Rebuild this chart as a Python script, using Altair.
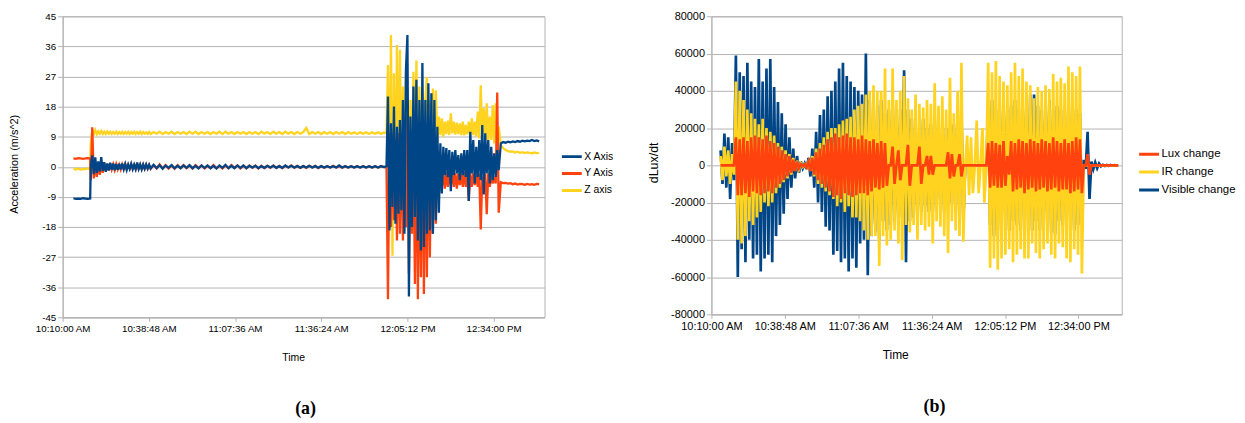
import altair as alt
import pandas as pd

# ---------------- Panel (a): accelerometer ----------------
# time in minutes after 10:10:00 AM; (start, step) of each sampled stretch
A_T_PRE = (3.6, 0.8)
A_T_CALM1 = (9.4, 0.5)
A_T_CALM2 = (29.4, 1.0)
A_T_BURST = (108.2, 0.5)
A_T_POST = (146.4, 0.8)

X_PRE = [-9.4, -9.6, -9.5, -9.6, -9.4, -9.5, -9.6, -9.5]
Y_PRE = [2.5, 2.4, 2.6, 2.5, 2.4, 2.5, 2.6, 2.5]
Z_PRE = [-0.6, -0.8, -0.5, -0.9, -0.6, -0.7, -0.5, -0.8]

X_CALM1 = [
    0.5, 3.4, -2.2, 2.8, -1.8, 1.6, -1.4, 2.9, -1.2, 1.4,
    -1.5, 1.0, -1.1, 1.2, -0.9, 1.0, -1.0, 0.8, -0.9, 0.9,
    -0.8, 1.0, -0.7, 0.8, -0.9, 0.7, -0.6, 0.9, -0.7, 0.6,
    -0.7, 1.3, -0.6, 0.7, -0.8, 0.6, -0.6, 0.7, -0.5, 0.6,
]
Y_CALM1 = [
    -4.0, 11.8, -3.5, 1.2, -3.0, 1.4, -2.4, 0.9, -1.8, 1.1,
    -1.2, 0.8, -1.0, 0.9, -0.8, 0.7, -0.9, 0.8, -0.7, 0.6,
    -0.8, 0.7, -0.6, 0.8, -0.7, 0.5, -0.6, 0.7, -0.5, 0.6,
    -0.7, 0.5, -0.6, 0.6, -0.5, 0.7, -0.6, 0.5, -0.6, 0.5,
]
Z_CALM1 = [
    7.0, 10.9, 9.8, 11.0, 9.7, 10.6, 9.9, 10.7, 9.8, 10.5,
    9.8, 10.6, 9.9, 10.5, 9.8, 10.4, 9.9, 10.5, 9.8, 10.4,
    9.9, 10.5, 9.8, 10.4, 9.9, 10.5, 9.8, 10.4, 9.9, 10.5,
    9.8, 10.4, 9.9, 10.5, 9.8, 10.4, 9.9, 10.3, 9.8, 10.4,
]
X_CALM2 = [
    -0.5, 0.6, -0.4, 0.5, -0.6, 0.4, -0.3, 0.5, -0.4, 0.3,
    -0.4, 0.4, -0.3, 0.5, -0.4, 0.3, -0.5, 0.4, -0.3, 0.4,
    -0.4, 0.3, -0.5, 0.4, -0.3, 0.6, -0.4, 0.3, -0.4, 0.4,
    -0.3, 0.4, -0.4, 0.3, -0.2, 0.3, -0.4, 0.2, -0.3, 0.3,
    -0.2, 0.3, -0.3, 0.2, -0.3, 0.4, -0.2, 0.3, -0.2, 0.2,
    -0.3, 0.2, -0.2, 0.3, -0.2, 0.2, -0.3, 0.2, -0.2, 0.2,
    -0.2, 0.2, -0.2, 0.4, -0.2, 0.2, -0.2, 0.2, -0.2, 0.2,
    -0.2, 0.2, -0.2, 0.2, -0.2, 0.2, -0.2, 0.2, -0.1,
]
Y_CALM2 = [
    -0.6, 0.5, -0.5, 0.7, -0.4, 0.5, -0.5, 0.4, -0.6, 0.5,
    -0.4, 0.5, -0.4, 0.4, -0.5, 0.5, -0.3, 0.4, -0.5, 0.3,
    -0.4, 0.5, -0.4, 0.3, -0.5, 0.4, -0.4, 0.5, -0.3, 0.4,
    -0.5, 0.3, -0.4, 0.4, -0.3, 0.4, -0.5, 0.3, -0.4, 0.3,
    -0.3, 0.4, -0.3, 0.3, -0.4, 0.3, -0.2, 0.4, -0.3, 0.3,
    -0.3, 0.2, -0.3, 0.3, -0.2, 0.3, -0.4, 0.2, -0.3, 0.2,
    -0.2, 0.3, -0.2, 0.2, -0.3, 0.2, -0.2, 0.2, -0.2, 0.2,
    -0.2, 0.2, -0.2, 0.2, -0.2, 0.2, -0.2, 0.2, -0.1,
]
Z_CALM2 = [
    9.8, 10.4, 9.9, 10.5, 9.8, 10.4, 9.9, 10.5, 9.8, 10.4,
    9.9, 10.4, 9.8, 10.5, 9.9, 10.5, 9.8, 10.4, 9.9, 10.4,
    9.8, 10.4, 9.9, 10.5, 9.8, 10.5, 9.9, 10.4, 9.8, 10.4,
    9.9, 10.4, 9.8, 10.4, 9.9, 10.4, 9.8, 10.5, 9.9, 10.4,
    9.8, 10.5, 9.9, 10.4, 9.8, 10.5, 9.9, 10.4, 9.8, 10.4,
    9.9, 10.4, 11.6, 9.8, 10.4, 9.9, 10.4, 9.8, 10.4, 9.9,
    10.4, 9.8, 10.4, 9.9, 10.4, 9.8, 10.4, 9.9, 10.3, 9.8,
    10.3, 9.9, 10.3, 9.8, 10.3, 9.9, 10.3, 9.9, 10.2,
]
X_BURST = [
    0.2, 21, -19, 13, -12, 18, -17, 12, -14, 14,
    -13, 20, -20, 29, 39.4, -38.8, 15, -18, 24, -15,
    26, -22, 20, -25, 31, -24, 20, -20, 25, -19,
    22, -20, 20, -16, 12, -13.7, 7, -8, 6, -2.5,
    5.6, -3, 5, -7.3, 4.5, -2.5, 5, -2, 3.5, -4,
    4, -2.5, 5, -3, 5, -10.2, 10.5, -2, 8, -5,
    6, -3, 8, -4, 12.5, -8.3, 10, -2, 8, -5,
    6, -4, 4, -3, 5, -1,
]
Y_BURST = [
    -0.2, -39.6, 10, -18, 8, -16, 8, -22, 10, -20,
    9, -22, 12, -18, 15, -32, 10, -20, 12, -35,
    15, -39.6, 10, -33, 14, -38, 12, -33, 14, -27,
    10, -20, 8, -17, 5, -7, -2, -6, -2, -6.5,
    -1.5, -6, -2, -5.5, -2, -6, -1.8, -6.5, -2, -5.5,
    -2, -6, -1.5, -6, -2.5, -10.2, -2, -6, -2, -5.5,
    -2, -6, -2, -18.7, -3, -7, -2, -14.2, -2, -6,
    -2.5, -5, -3, -5, 22.2, -13.7,
]
Z_BURST = [
    10.0, 30.4, -15, 39.4, -26.6, 28, -10, 36.4, -8, 35,
    -5, 24, -6, 28, 22, -5, 20, -4, 28.4, -3,
    31.8, -2, 24, -3, 20, -2, 20, 26.8, 3, 20,
    2, 23.4, 5, 22.9, 8, 15, 9.5, 14.5, 9, 13.5,
    9.8, 13.8, 9.5, 16, 10, 13.5, 9.6, 13.2, 9.8, 13,
    9.5, 13.5, 9.4, 12.5, 9.7, 13.5, 9.2, 14.5, 9.5, 13.5,
    9, 16.5, 8.5, 24.4, 9, 17.5, 8, 19, 7.6, 15,
    8, 18.5, 7, 19, 6.6, 12,
]
X_POST = [7.0, 7.4, 7.2, 7.5, 7.3, 7.6, 7.4, 7.7, 7.5, 7.8, 7.6, 7.8, 7.7, 8.0, 7.7, 7.9, 7.6]
Y_POST = [-4.6, -4.9, -4.8, -5.0, -4.9, -5.2, -5.0, -5.3, -5.1, -5.2, -5.4, -5.1, -5.3, -5.2, -5.4, -5.1, -5.2]
Z_POST = [6.4, 5.6, 5.0, 4.7, 4.5, 4.6, 4.3, 4.5, 4.2, 4.4, 4.1, 4.3, 4.2, 4.0, 4.3, 4.1, 4.2]

A_SERIES = ["X Axis", "Y Axis", "Z axis"]
A_COLORS = ["#004586", "#ff420e", "#ffd320"]

# ---------------- Panel (b): light sensor derivative ----------------
B_T = (3.6, 0.75)  # start, step (minutes after 10:10:00 AM)
# values in thousands of dLux/dt
LUX_K = [
    0, 0, 0, 0, 0, 0, 0, 0, 15, -16,
    14, -16, 15, -15, 13, -17, 15, -14, 16, -15,
    15, -16, 14, -15, 16, -14, 13, -15, 12, -12,
    10, -10, 8, -8, 6, -6, 5, -4, 3, -3,
    2, -1.5, 0.5, -0.5, 0.5, -1, 2, -3, 4, -5,
    7, -8, 9, -10, 11, -12, 14, -14, 15, -17,
    17, -16, 15, -18, 16, -15, 17, -16, 15, -17,
    15, -16, 14, -15, 16, -15, 14, -16, 13, -14,
    14, -12, 12, -13, 13, -12, 12, -11, 0, 0,
    10, -10, 0, 8, -8, 0, 0, 0, 11, -11,
    0, 0, 0, 0, 10, -10, 0, 0, 5, -5,
    5, -5, 0, 0, 0, 0, 0, 0, 0, 7,
    -7, 6, -6, 0, 0, 6, -6, 0, 0, 0,
    0, 0, 0, 0, 0, 0, 0, 0, 0, 0,
    12, -12, 13, -11, 12, -12, 11, -12, 13, -11,
    5, -5, 13, -14, 12, -13, 14, -12, 13, -15,
    12, -13, 14, -12, 13, -14, 12, -13, 14, -12,
    13, -14, 12, -13, 15, -12, 13, -14, 12, -13,
    14, -13, 12, -15, 13, -14, 15, -13, 14, -15,
    0, 0, 6, -5, 0, 0, 0, 0, 0, 0,
    0, 0, 0, 0, 0, 0, 0, 0, 0,
]
IR_K = [
    5, -8, 10, -6, 8, -10, 6, -5, 45, -40,
    40, -42, 35, -38, 30, -30, 28, -32, 25, -28,
    22, -25, 25, -20, 20, -22, 18, -20, 16, -15,
    12, -12, 10, -9, 8, -7, 6, -5, 4, -3,
    2.5, -2, 1, -0.8, 0.5, -1, 2, -3, 5, -6,
    9, -10, 12, -12, 15, -14, 18, -16, 20, -18,
    20, -22, 22, -20, 24, -25, 25, -22, 26, -28,
    30, -28, 32, -30, 33, -35, 38, -40, 40, -38,
    43, -38, 40, -54, 40, -38, 52, -43, 35, -40,
    52, -35, 35, -42, 40, -51, 48, -32, 36, -36,
    30, -32, 38, -40, 33, -32, 31, -35, 35, -33,
    33, -42, 44, -30, 32, -33, 37, -38, 30, -47,
    47, -30, 28, -35, 40, -38, 55, -41, 0, 16,
    -16, 15, -15, 0, 24, -15, 0, 20, -20, 0,
    55, -55, 50, -50, 56, -56, 48, -50, 45, -48,
    43, -45, 50, -52, 55, -48, 48, -45, 52, -50,
    45, -50, 43, -42, 36, -47, 42, -50, 40, -45,
    43, -42, 41, -48, 49, -50, 45, -42, 47, -44,
    44, -50, 53, -52, 50, -45, 48, -48, 53, -58,
    0, 0, 0, 0, 0, 0, 0, 0, 0, 0,
    0, 0, 0, 0, 0, 0, 0, 0, 0,
]
VIS_K = [
    8, -10, 17, -12, 15, -18, 12, -8, 59, -60,
    50, -45, 48, -52, 55, -40, 45, -50, 42, -48,
    57, -57, 45, -50, 52, -48, 57, -52, 42, -38,
    34, -32, 28, -26, 22, -18, 15, -12, 9, -7,
    5, -4, 2, -1.5, 1, -2, 4, -6, 9, -12,
    18, -20, 27, -25, 30, -33, 37, -35, 40, -48,
    45, -46, 52, -52, 55, -50, 48, -57, 45, -50,
    42, -55, 40, -42, 38, -40, 60, -59, 35, -38,
    30, -36, 32, -40, 35, -30, 28, -35, 30, -32,
    35, -30, 30, -32, 30, -28, 51, -52, 30, -30,
    25, -28, 22, -25, 20, -25, 25, -22, 20, -25,
    22, -25, 25, -20, 18, -22, 20, -25, 20, -22,
    20, -20, 22, -25, 25, -20, 30, -30, 0, 0,
    0, 0, 0, 0, 0, 0, 0, 0, 0, 0,
    30, -32, 35, -38, 30, -35, 32, -30, 35, -30,
    30, -35, 32, -30, 35, -32, 30, -35, 33, -30,
    35, -32, 38, -35, 38, -30, 32, -35, 30, -33,
    33, -30, 35, -36, 30, -37, 32, -30, 30, -32,
    30, -32, 35, -30, 32, -35, 30, -32, 28, -30,
    3, -2, 18, -18, 2, -2, 1.5, -1.5, 1, -0.5,
    0.3, -0.3, 0.2, -0.2, 0.2, -0.2, 0.1, -0.1, 0,
]
B_SERIES = ["Lux change", "IR change", "Visible change"]
B_COLORS = ["#ff420e", "#ffd320", "#004586"]

TIME_TICKS = [0, 28.8, 57.6, 86.4, 115.2, 144.0]
A_YTICKS = list(range(-45, 46, 9))
B_YTICKS = list(range(-80000, 80001, 20000))


def rows(name, grid, values, scale=1.0):
    t0, dt = grid
    return [{"s": name, "t": round(t0 + dt * i, 4), "v": v * scale} for i, v in enumerate(values)]


a_rows = []
A_GRIDS = [A_T_PRE, A_T_CALM1, A_T_CALM2, A_T_BURST, A_T_POST]
for name, parts in [
    ("X Axis", [X_PRE, X_CALM1, X_CALM2, X_BURST, X_POST]),
    ("Y Axis", [Y_PRE, Y_CALM1, Y_CALM2, Y_BURST, Y_POST]),
    ("Z axis", [Z_PRE, Z_CALM1, Z_CALM2, Z_BURST, Z_POST]),
]:
    for grid, vals in zip(A_GRIDS, parts):
        a_rows += rows(name, grid, vals)
df_a = pd.DataFrame(a_rows)

b_rows = []
for name, vals in zip(B_SERIES, [LUX_K, IR_K, VIS_K]):
    b_rows += rows(name, B_T, vals, 1000.0)
df_b = pd.DataFrame(b_rows)

GRID = "#b3b3b3"
SANS = "Liberation Sans, Arial, sans-serif"
LABEL_EXPR = "timeFormat(time(datetime(2000, 0, 1, 10, 10, 0)) + datum.value * 60000, '%-I:%M:%S %p')"


def make_panel(df, series, colors, draw_order, ydom, yticks, width, height, stroke,
               tick_size, ytitle, ytitle_size, ytitle_x, xtitle_x, xtitle_size,
               legend_x, legend_y, legend_size, legend_row, caption, caption_dx, caption_offset):
    xaxis = alt.Axis(values=TIME_TICKS, labelExpr=LABEL_EXPR, title="Time", grid=False,
                     tickSize=4, tickColor=GRID, domainColor=GRID, labelFont=SANS,
                     labelFontSize=tick_size, labelColor="#000000", labelPadding=2,
                     labelFlush=False, labelOverlap=False,
                     titleFont=SANS, titleFontSize=xtitle_size, titleFontWeight="normal",
                     titleColor="#000000", titleX=xtitle_x, titleY=40, titleBaseline="middle")
    yaxis = alt.Axis(values=yticks, grid=True, gridColor=GRID, tickSize=5, tickColor=GRID,
                     domainColor=GRID, labelFont=SANS, labelFontSize=tick_size,
                     labelColor="#000000", labelPadding=2, labelExpr="'' + datum.value",
                     labelFlush=False, labelOverlap=False, title=ytitle,
                     titleFont=SANS, titleFontSize=ytitle_size, titleFontWeight="normal",
                     titleColor="#000000", titleX=ytitle_x, titleY=height / 2 - 3,
                     titleAngle=270, titleBaseline="middle")
    legend = alt.Legend(title=None, orient="none", legendX=legend_x, legendY=legend_y,
                        symbolType="stroke", symbolSize=400, symbolStrokeWidth=3,
                        labelFont=SANS, labelFontSize=legend_size, labelColor="#000000",
                        clipHeight=legend_row, rowPadding=0, labelOffset=1, padding=0)
    layers = []
    for name in draw_order:
        layers.append(
            alt.Chart(df)
            .transform_filter(alt.datum.s == name)
            .mark_line(strokeWidth=stroke)
            .encode(
                x=alt.X("t:Q", scale=alt.Scale(domain=[0, 161], nice=False, zero=False), axis=xaxis),
                y=alt.Y("v:Q", scale=alt.Scale(domain=ydom, nice=False), axis=yaxis),
                color=alt.Color("s:N", scale=alt.Scale(domain=series, range=colors), legend=legend),
            )
        )
    return alt.layer(*layers).properties(
        width=width, height=height,
        title=alt.TitleParams(caption, orient="bottom", anchor="middle", font="Liberation Serif",
                              fontSize=18, fontWeight="bold", color="#000000",
                              dx=caption_dx, offset=caption_offset),
    )


panel_a = make_panel(df_a, A_SERIES, A_COLORS, ["Z axis", "Y Axis", "X Axis"], [-45, 45], A_YTICKS,
                     485, 303, 2.3, 9.8, "Acceleration (m/s^2)", 11, -48, 232, 10.5,
                     501, 133, 10.5, 16.5, "(a)", 2, 38)
panel_b = make_panel(df_b, B_SERIES, B_COLORS, ["Visible change", "IR change", "Lux change"],
                     [-80000, 80000], B_YTICKS, 413, 300, 2.7, 11, "dLux/dt", 12.5, -58, 185, 12,
                     429, 130, 11.5, 17.5, "(b)", 18, 38)

chart = (
    alt.hconcat(panel_a, panel_b, spacing=32)
    .resolve_scale(color="independent")
    .resolve_legend(color="independent")
    .properties(padding={"left": 0, "top": 0, "right": 0, "bottom": 0})
    .configure_view(stroke=GRID)
)
chart.save("out.html", embed_options={"renderer": "svg", "actions": False})
